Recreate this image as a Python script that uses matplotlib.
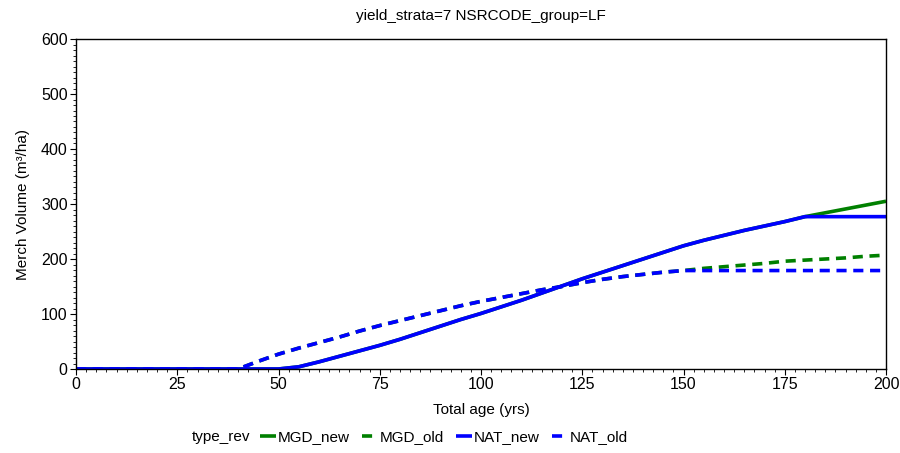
import numpy as np
import matplotlib
matplotlib.use("Agg")
import matplotlib.pyplot as plt
from matplotlib.ticker import MultipleLocator

plt.rcParams['font.family'] = ['Liberation Sans', 'DejaVu Sans']

# age in years, every 5
age = list(range(0, 205, 5))

nat_new = [0, 0, 0, 0, 0, 0, 0, 0, 0, 0, 0, 4, 13, 23, 33, 43, 54, 66, 78, 90, 101,
           113, 125, 138, 151, 164, 176, 188, 200, 212, 224, 234, 243, 252, 260, 268,
           277, 277, 277, 277, 277]
mgd_new = [0, 0, 0, 0, 0, 0, 0, 0, 0, 0, 0, 4, 13, 23, 33, 43, 54, 66, 78, 90, 101,
           113, 125, 138, 151, 164, 176, 188, 200, 212, 224, 234, 243, 252, 260, 268,
           277, 284, 291, 298, 305]
nat_old = [0, 0, 0, 0, 0, 0, 0, 0, 0, 14, 27, 38, 48, 58, 69, 79, 88, 97, 106, 115, 123,
           130, 137, 144, 150, 157, 163, 168, 172, 176, 179, 179, 179, 179, 179, 179,
           179, 179, 179, 179, 179]
mgd_old = [0, 0, 0, 0, 0, 0, 0, 0, 0, 14, 27, 38, 48, 58, 69, 79, 88, 97, 106, 115, 123,
           130, 137, 144, 150, 157, 163, 168, 172, 176, 179, 183, 186, 189, 192, 196,
           198, 200, 202, 205, 207]

green = '#008000'
blue = '#0000ff'

fig = plt.figure(figsize=(9, 4.53), dpi=100)
ax = fig.add_axes([76/900, 1-369/453, 810/900, 330/453])

lw = 2.6
dash = (0, (2.8, 1.85))
ax.plot(age, mgd_new, color=green, lw=lw, label='MGD_new', solid_capstyle='butt')
ax.plot(age, mgd_old, color=green, lw=lw, ls=dash, label='MGD_old')
ax.plot(age, nat_new, color=blue, lw=lw, label='NAT_new', solid_capstyle='butt')
ax.plot(age, nat_old, color=blue, lw=lw, ls=dash, label='NAT_old')

ax.set_xlim(0, 200)
ax.set_ylim(0, 600)
ax.xaxis.set_major_locator(MultipleLocator(25))
ax.xaxis.set_minor_locator(MultipleLocator(2.5))
ax.yaxis.set_major_locator(MultipleLocator(100))
ax.yaxis.set_minor_locator(MultipleLocator(10))
ax.tick_params(which='major', length=4, width=0.8, labelsize=11.5, pad=2)
ax.tick_params(which='minor', length=2, width=0.6)
for s in ax.spines.values():
    s.set_linewidth(1)

ax.set_title('yield_strata=7 NSRCODE_group=LF', fontsize=11, pad=14)
ax.set_xlabel('Total age (yrs)', fontsize=11, labelpad=8)
ax.set_ylabel('Merch Volume (m³/ha)', fontsize=11, labelpad=8)

fig.text(192/900, 1-437/453, 'type_rev', fontsize=11, va='center', ha='left')
fig.legend(loc='center', bbox_to_anchor=(444/900, 1-437/453), ncol=4, frameon=False,
           fontsize=11, handlelength=1.0, handletextpad=0.15, columnspacing=0.8,
           borderaxespad=0)

fig.savefig('out.png', dpi=100)
